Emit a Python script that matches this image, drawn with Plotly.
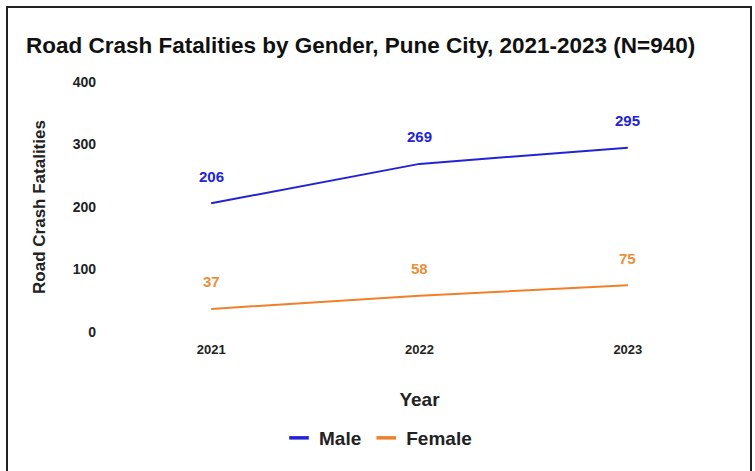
import plotly.graph_objects as go

years = ["2021", "2022", "2023"]
male = [206, 269, 295]
female = [37, 58, 75]
y_ticks = [0, 100, 200, 300, 400]

MALE_C = "#2323d6"
FEMALE_C = "#f0802a"
LABEL_FEMALE_C = "#e8903c"
FONT = "Liberation Sans, Arial, sans-serif"

fig = go.Figure()
fig.add_trace(go.Scatter(x=years, y=male, mode="lines", name="Male", showlegend=False,
                         line=dict(color=MALE_C, width=2)))
fig.add_trace(go.Scatter(x=years, y=female, mode="lines", name="Female", showlegend=False,
                         line=dict(color=FEMALE_C, width=2)))
# legend entries with short thick dashes
for nm, c in [("Male", MALE_C), ("Female", FEMALE_C)]:
    fig.add_trace(go.Scatter(x=[None], y=[None], mode="markers", name=f"<b>{nm}</b>",
                             marker=dict(symbol="line-ew-open", size=14, color=c,
                                         line=dict(color=c, width=3.5))))

annotations = []
for ys, c in [(male, MALE_C), (female, LABEL_FEMALE_C)]:
    for i, yv in enumerate(ys):
        annotations.append(dict(x=i, y=yv, xref="x", yref="y", text=f"<b>{yv}</b>",
                                showarrow=False, yshift=27,
                                font=dict(family=FONT, size=15, color=c)))

fig.update_layout(
    width=755, height=471,
    margin=dict(l=107, r=23, t=82, b=139),
    paper_bgcolor="white", plot_bgcolor="white",
    font=dict(family=FONT, color="#222222"),
    title=dict(text="<b>Road Crash Fatalities by Gender, Pune City, 2021-2023 (N=940)</b>",
               x=26/755, xref="container", xanchor="left",
               y=1-45/471, yref="container", yanchor="middle",
               pad=dict(l=0, r=0, t=0, b=0),
               font=dict(family=FONT, size=22.5, color="#111111")),
    xaxis=dict(type="category", range=[-0.5, 2.5], showgrid=False, showline=False, zeroline=False,
               tickvals=years, ticktext=[f"<b>{y}</b>" for y in years],
               tickfont=dict(family=FONT, size=13, color="#222222"),
               ticklabelstandoff=8,
               title=dict(text="<b>Year</b>", font=dict(family=FONT, size=19, color="#222222"),
                          standoff=36)),
    yaxis=dict(range=[0, 400], tickvals=y_ticks, ticktext=[f"<b>{v}</b>" for v in y_ticks],
               showgrid=False, showline=False, zeroline=False,
               tickfont=dict(family=FONT, size=14, color="#222222"),
               ticklabelstandoff=10,
               title=dict(text="<b>Road Crash Fatalities</b>",
                          font=dict(family=FONT, size=17, color="#222222"), standoff=22)),
    legend=dict(orientation="h", x=(378-107)/625, xanchor="center",
                y=(332-438)/250, yanchor="middle",
                font=dict(family=FONT, size=19, color="#222222")),
    showlegend=True,
    annotations=annotations,
    shapes=[dict(type="rect", xref="paper", yref="paper",
                 x0=(7-107)/625, x1=(751-107)/625,
                 y0=(332-480)/250, y1=1+(82-7)/250,
                 line=dict(color="#222222", width=2), fillcolor="rgba(0,0,0,0)", layer="above")],
)

fig.write_html("out.html",
               config={"displayModeBar": False},
               post_script="document.body.style.margin='0px';document.body.style.overflow='hidden';")
